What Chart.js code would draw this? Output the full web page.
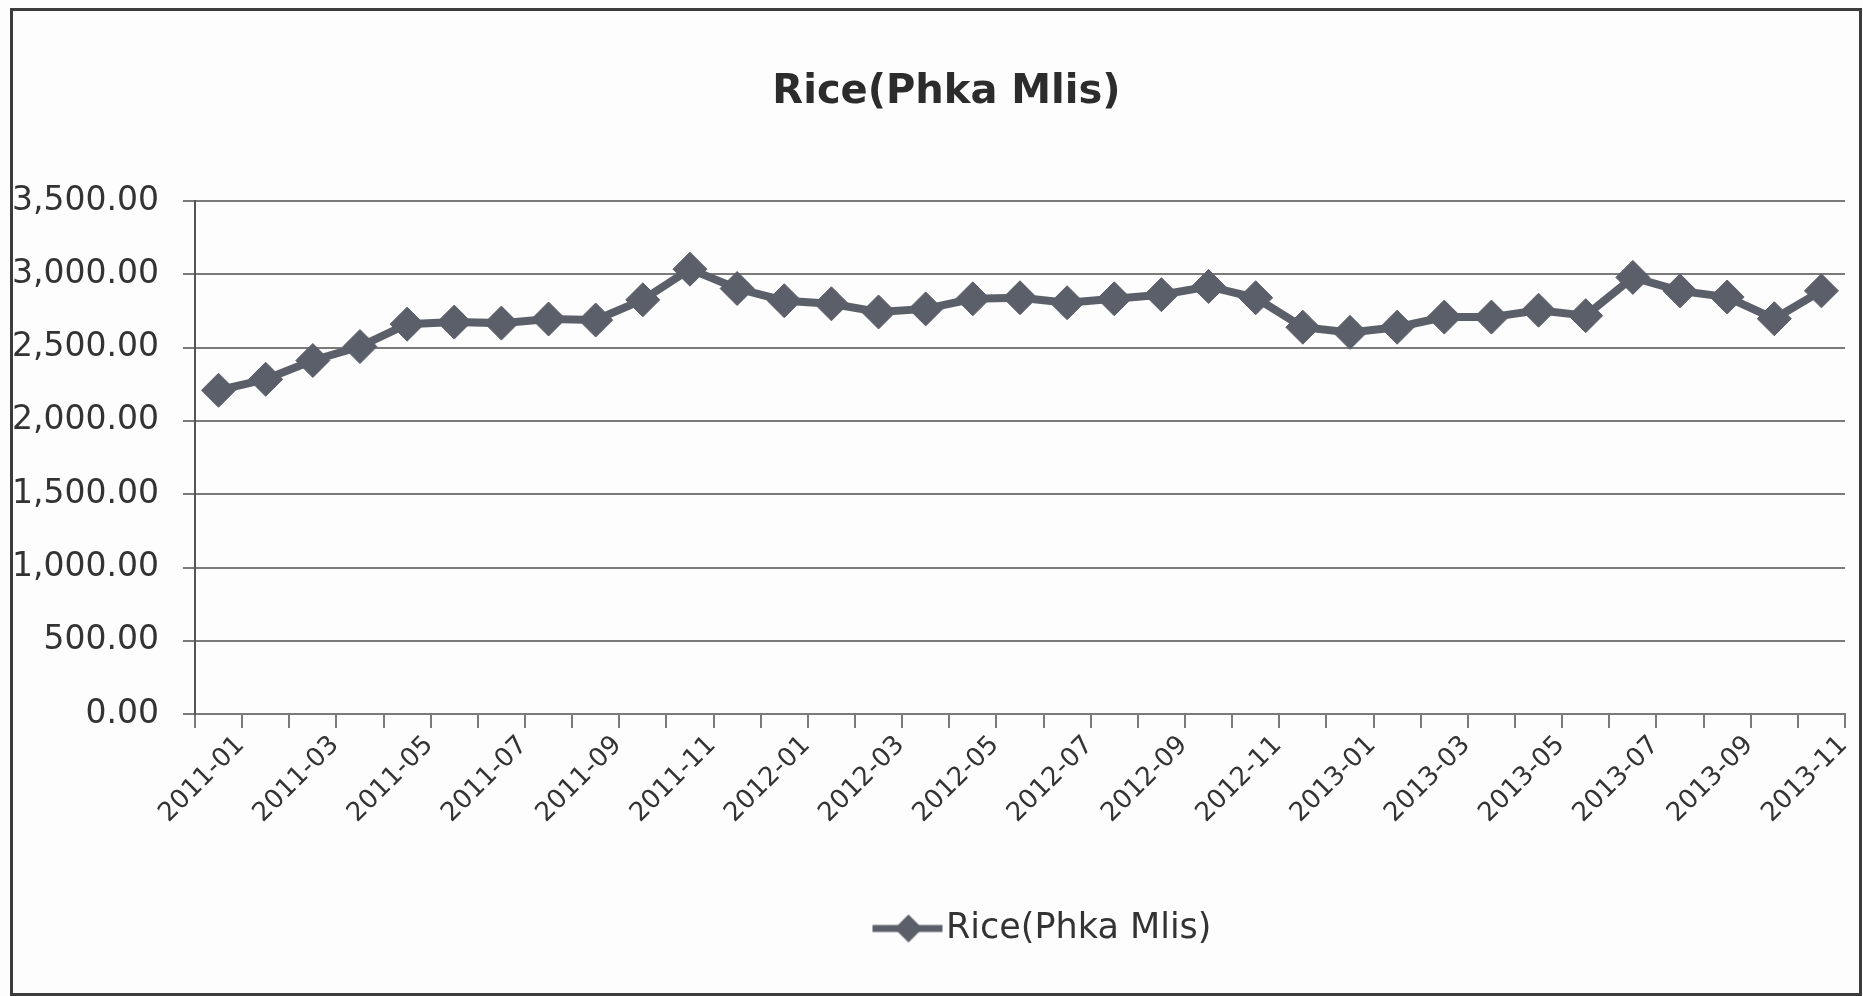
<!DOCTYPE html>
<html>
<head>
<meta charset="utf-8">
<script src="https://cdn.jsdelivr.net/npm/chart.js@4/dist/chart.umd.min.js"></script>
<style>
  html, body { margin: 0; padding: 0; background: #fdfdfd; overflow: hidden; }
  #wrap { position: relative; width: 1863px; height: 996px; }
  #frame { position: absolute; left: 10px; top: 8px; width: 1846px; height: 982px; border: 3px solid #3c3c3c; pointer-events: none; }
</style>
</head>
<body>
<div id="wrap">
  <canvas id="chart-rice"></canvas>
  <div id="frame"></div>
</div>
<script>
var months = [
  '2011-01', '2011-02', '2011-03', '2011-04', '2011-05', '2011-06', '2011-07', '2011-08', '2011-09', '2011-10', '2011-11', '2011-12',
  '2012-01', '2012-02', '2012-03', '2012-04', '2012-05', '2012-06', '2012-07', '2012-08', '2012-09', '2012-10', '2012-11', '2012-12',
  '2013-01', '2013-02', '2013-03', '2013-04', '2013-05', '2013-06', '2013-07', '2013-08', '2013-09', '2013-10', '2013-11'
];
var ricePrice = [
  2209, 2284, 2412, 2507, 2660, 2674, 2667, 2695, 2688, 2826, 3035, 2903,
  2820, 2799, 2743, 2764, 2833, 2840, 2806, 2833, 2861, 2917, 2840, 2639,
  2604, 2639, 2708, 2708, 2755, 2718, 2979, 2887, 2845, 2697, 2887
];
var seriesName = 'Rice(Phka Mlis)';
var titleText = 'Rice(Phka Mlis)';

(function () {
  var lineColor = '#5b5f69';
  var textColor = '#333333';
  var gridColor = '#7a7a7a';
  var fontFamily = '"DejaVu Sans", sans-serif';

  // legend marker: line with a diamond, drawn wider than the legend box so it meets the text
  function legendMarker() {
    var c = document.createElement('canvas');
    c.width = 132;
    c.height = 34;
    var g = c.getContext('2d');
    g.strokeStyle = lineColor;
    g.lineWidth = 7;
    g.beginPath();
    g.moveTo(60, 17);
    g.lineTo(130, 17);
    g.stroke();
    g.fillStyle = lineColor;
    g.beginPath();
    g.moveTo(96, 3);
    g.lineTo(110, 17);
    g.lineTo(96, 31);
    g.lineTo(82, 17);
    g.closePath();
    g.fill();
    return c;
  }

  function init() {
    var marker = legendMarker();
    var ctx = document.getElementById('chart-rice');
    new Chart(ctx, {
      type: 'line',
      data: {
        labels: months,
        datasets: [
          {
            label: seriesName,
            data: ricePrice,
            borderColor: lineColor,
            backgroundColor: lineColor,
            borderWidth: 8,
            tension: 0,
            pointStyle: 'rectRot',
            pointRadius: 17,
            pointHoverRadius: 17,
            pointBorderWidth: 1,
            pointBackgroundColor: lineColor,
            pointBorderColor: lineColor,
          },
        ],
      },
      options: {
        responsive: true,
        maintainAspectRatio: false,
        animation: false,
        // negative right padding pushes the title centre to the right; x-axis padding keeps the plot edge
        layout: { padding: { left: 10, right: -20, top: 10, bottom: 40 } },
        plugins: {
          title: {
            display: true,
            text: titleText,
            color: '#2c2c2c',
            font: { family: fontFamily, size: 40, weight: 'bold' },
            padding: { top: 59, bottom: 84 },
          },
          legend: {
            position: 'bottom',
            fullSize: false,
            labels: {
              color: textColor,
              font: { family: fontFamily, size: 35 },
              usePointStyle: true,
              pointStyleWidth: 100,
              padding: 10,
              generateLabels: function (chart) {
                return chart.data.datasets.map(function (ds, i) {
                  return {
                    text: ds.label,
                    pointStyle: marker,
                    fontColor: textColor,
                    lineWidth: 0,
                    strokeStyle: 'transparent',
                    fillStyle: lineColor,
                    datasetIndex: i,
                  };
                });
              },
            },
          },
          tooltip: { enabled: false },
        },
        scales: {
          x: {
            offset: true,
            grid: { drawOnChartArea: false, drawTicks: true, tickLength: 14, offset: true, color: gridColor, lineWidth: 2 },
            border: { display: true, color: gridColor, width: 2 },
            afterFit: function (scale) {
              scale.height += 70;
              scale.paddingLeft = 0;
              scale.paddingRight = 16;
            },
            ticks: {
              autoSkip: false,
              minRotation: 45,
              maxRotation: 45,
              padding: 2,
              labelOffset: 22,
              color: textColor,
              font: { family: fontFamily, size: 26 },
              callback: function (v, i) {
                return i % 2 === 0 ? this.getLabelForValue(v) : '';
              },
            },
          },
          y: {
            min: 0,
            max: 3500,
            afterFit: function (scale) {
              // chart.js reserves the tick padding twice; drop the unused copy
              scale.width -= 22;
            },
            grid: { color: gridColor, lineWidth: 2, drawTicks: true, tickLength: 12 },
            border: { display: true, color: '#555555', width: 2 },
            ticks: {
              stepSize: 500,
              padding: 24,
              color: textColor,
              font: { family: fontFamily, size: 33 },
              callback: function (v) {
                return Number(v).toLocaleString('en-US', { minimumFractionDigits: 2, maximumFractionDigits: 2 });
              },
            },
          },
        },
      },
    });
  }

  if (document.readyState === 'loading') {
    document.addEventListener('DOMContentLoaded', init);
  } else {
    init();
  }
})();
</script>
</body>
</html>
